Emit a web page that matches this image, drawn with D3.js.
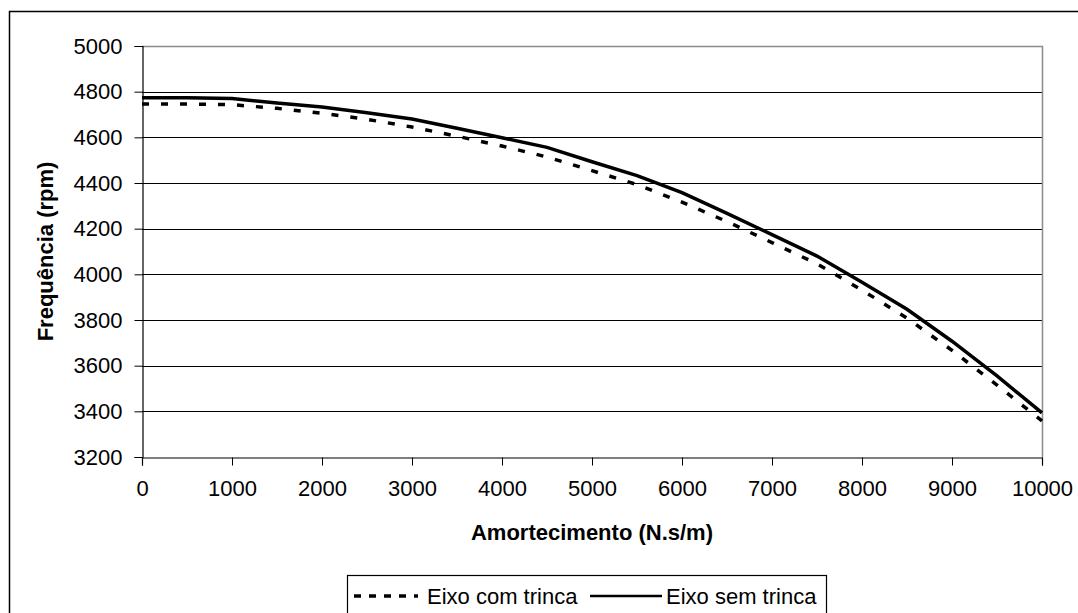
<!DOCTYPE html>
<html>
<head>
<meta charset="utf-8">
<script src="https://cdn.jsdelivr.net/npm/d3@7"></script>
<style>
  body { margin: 0; background: #fff; }
  svg text { font-family: "Liberation Sans", Arial, sans-serif; fill: #000; }
</style>
</head>
<body>
<div id="chart"></div>
<script>
// damping values (N.s/m)
const damping = [0, 500, 1000, 1500, 2000, 2500, 3000, 3500, 4000, 4500, 5000,
  5500, 6000, 6500, 7000, 7500, 8000, 8500, 9000, 9500, 10000];
// frequency (rpm), shaft with crack
const comTrinca = [4746, 4746, 4743, 4727, 4705, 4679, 4645, 4605, 4562, 4514, 4454,
  4393, 4316, 4231, 4139, 4046, 3931, 3808, 3667, 3515, 3358];
// frequency (rpm), shaft without crack
const semTrinca = [4773, 4773, 4770, 4750, 4733, 4708, 4680, 4640, 4598, 4556, 4493,
  4432, 4358, 4267, 4174, 4080, 3965, 3847, 3707, 3555, 3393];
const xTicks = [0, 1000, 2000, 3000, 4000, 5000, 6000, 7000, 8000, 9000, 10000];
const yTicks = [3200, 3400, 3600, 3800, 4000, 4200, 4400, 4600, 4800, 5000];
const seriesNames = ["Eixo com trinca", "Eixo sem trinca"];

const W = 1078, H = 613;
const PLOT = { LEFT: 142, RIGHT: 1042, TOP: 46, BOTTOM: 457 };
const FONT = "22px";

const svg = d3.select("#chart").append("svg")
  .attr("width", W).attr("height", H)
  .attr("xmlns", "http://www.w3.org/2000/svg");

// outer chart frame
svg.append("rect")
  .attr("x", 9.5).attr("y", 11.5)
  .attr("width", W + 20).attr("height", H + 20)
  .attr("fill", "#fff").attr("stroke", "#000").attr("stroke-width", 1.5);

const x = d3.scaleLinear().domain([0, 10000]).range([PLOT.LEFT, PLOT.RIGHT]);
const y = d3.scaleLinear().domain([3200, 5000]).range([PLOT.BOTTOM, PLOT.TOP]);

// gridlines
svg.append("g")
  .selectAll("line")
  .data(yTicks.slice(1, -1))
  .join("line")
  .attr("x1", PLOT.LEFT).attr("x2", PLOT.RIGHT)
  .attr("y1", d => Math.round(y(d)) + 0.5).attr("y2", d => Math.round(y(d)) + 0.5)
  .attr("stroke", "#000").attr("stroke-width", 1);

// plot area border (top / right grey)
svg.append("path")
  .attr("d", `M${PLOT.LEFT},${PLOT.TOP + 0.5} H${PLOT.RIGHT + 0.5} V${PLOT.BOTTOM}`)
  .attr("fill", "none").attr("stroke", "#8c8c8c").attr("stroke-width", 1.5);

// axes
const xAxis = d3.axisBottom(x).tickValues(xTicks).tickSize(8).tickPadding(15)
  .tickFormat(d3.format("d"));
const yAxis = d3.axisLeft(y).tickValues(yTicks).tickSize(8).tickPadding(12)
  .tickFormat(d3.format("d"));

const gx = svg.append("g")
  .attr("transform", `translate(0,${PLOT.BOTTOM + 0.5})`)
  .call(xAxis);
const gy = svg.append("g")
  .attr("transform", `translate(${PLOT.LEFT + 0.5},0)`)
  .call(yAxis);

[gx, gy].forEach(g => {
  g.select(".domain").attr("stroke", "#000").attr("stroke-width", 1.2);
  g.selectAll(".tick line").attr("stroke", "#000");
  g.selectAll("text")
    .attr("fill", "#000")
    .style("font-family", "'Liberation Sans', Arial, sans-serif")
    .style("font-size", FONT);
});

// series lines
const line = d3.line()
  .x((d, i) => x(damping[i]))
  .y(d => y(d));

svg.append("path")
  .datum(comTrinca)
  .attr("d", line)
  .attr("fill", "none").attr("stroke", "#000")
  .attr("stroke-width", 3.5)
  .attr("stroke-dasharray", "7,12");

svg.append("path")
  .datum(semTrinca)
  .attr("d", line)
  .attr("fill", "none").attr("stroke", "#000")
  .attr("stroke-width", 3.5);

// axis titles
svg.append("text")
  .attr("x", (PLOT.LEFT + PLOT.RIGHT) / 2).attr("y", 540)
  .attr("text-anchor", "middle")
  .style("font-size", FONT).style("font-weight", "bold")
  .text("Amortecimento (N.s/m)");

svg.append("text")
  .attr("transform", `translate(53,${(PLOT.TOP + PLOT.BOTTOM) / 2}) rotate(-90)`)
  .attr("text-anchor", "middle")
  .style("font-size", FONT).style("font-weight", "bold")
  .text("Frequência (rpm)");

// legend
const lg = svg.append("g");
lg.append("rect")
  .attr("x", 347.5).attr("y", 575.5)
  .attr("width", 479).attr("height", 60)
  .attr("fill", "#fff").attr("stroke", "#000").attr("stroke-width", 1.2);

lg.append("line")
  .attr("x1", 354).attr("x2", 418).attr("y1", 596).attr("y2", 596)
  .attr("stroke", "#000").attr("stroke-width", 3.5)
  .attr("stroke-dasharray", "7,8");
lg.append("text")
  .attr("x", 427).attr("y", 604)
  .style("font-size", FONT)
  .text(seriesNames[0]);

lg.append("line")
  .attr("x1", 590).attr("x2", 662).attr("y1", 596).attr("y2", 596)
  .attr("stroke", "#000").attr("stroke-width", 2.5);
lg.append("text")
  .attr("x", 666).attr("y", 604)
  .style("font-size", FONT)
  .text(seriesNames[1]);
</script>
</body>
</html>
